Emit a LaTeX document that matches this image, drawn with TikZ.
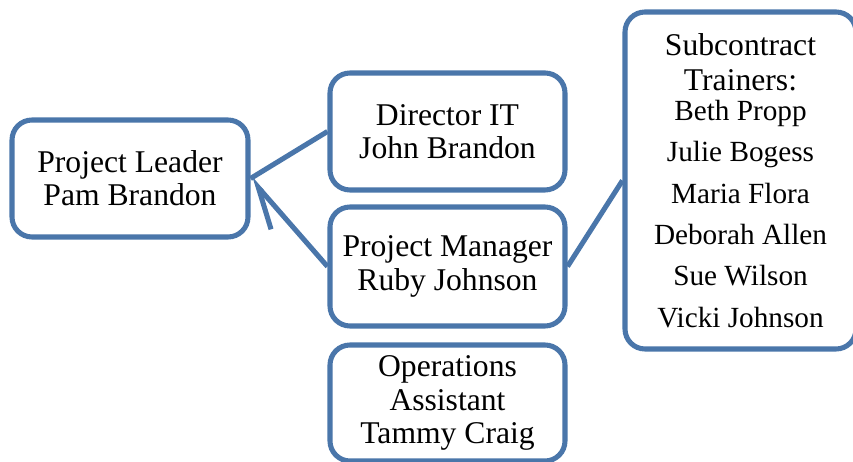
\documentclass[tikz,border=0pt]{standalone}
\usepackage{fontspec}
\setmainfont{Liberation Serif}
\usetikzlibrary{arrows.meta}

\definecolor{azul}{RGB}{74,118,170}
\newcommand{\nombres}{\fontsize{20.8}{21.3}\selectfont}
\tikzset{
  caja/.style={draw=azul, line width=3.6pt, rounded corners=0.5cm, fill=white,
    align=center, inner sep=0pt, minimum width=5.875cm,
    font=\fontsize{22.5}{23.6}\selectfont},
  enlace/.style={draw=azul, line width=3.6pt},
}

\begin{document}
\begin{tikzpicture}
    % Marco del dibujo
    \useasboundingbox (0,0) rectangle (21.325,11.55);
    \clip (0,0) rectangle (21.325,11.55);

    % Cajas del organigrama
    \node[caja, minimum width=5.9cm, minimum height=2.925cm] (lider) at (3.25,7.0875) {Project Leader\\Pam Brandon};
    \node[caja, minimum height=2.925cm] (director) at (11.1875,8.2625) {Director IT\\John Brandon};
    \node[caja, minimum height=2.975cm] (gerente) at (11.1875,4.8875) {Project Manager\\Ruby Johnson};
    \node[caja, minimum height=2.9cm] (asistente) at (11.1875,1.475) {Operations\\Assistant\\Tammy Craig};
    \node[caja, minimum width=5.775cm, minimum height=8.425cm, font=\fontsize{22.5}{21.3}\selectfont] (trainers) at (18.5125,7.0375)
        {Subcontract\\[3.6pt]Trainers:\\\nombres Beth Propp\\[8.1pt]\nombres Julie Bogess\\[8.1pt]\nombres Maria Flora\\[8.1pt]%
         \nombres Deborah Allen\\[8.1pt]\nombres Sue Wilson\\[8.1pt]\nombres Vicki Johnson};

    % Conexiones
    \draw[enlace] (lider.east) -- (director.west);
    \draw[enlace, -{Straight Barb[harpoon, length=1.0cm, width=0.9cm]}] (gerente.west) -- (lider.east);
    \draw[enlace] (gerente.east) -- (trainers.west);
\end{tikzpicture}
\end{document}
